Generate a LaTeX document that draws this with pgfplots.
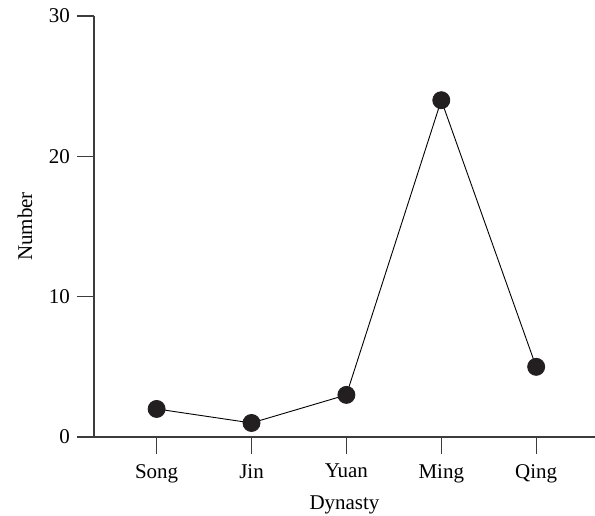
\documentclass[border=0pt]{standalone}
\usepackage{fontspec}
\setmainfont{Liberation Serif}
\usepackage{pgfplots}
\pgfplotsset{compat=1.18}
\definecolor{axgray}{HTML}{3C3C3C}
\definecolor{dot}{HTML}{231F20}
\begin{document}
\fontsize{21}{25}\selectfont
\begin{tikzpicture}
\useasboundingbox (0,0) rectangle (595pt,515pt);
\begin{axis}[
  at={(94pt,78pt)}, anchor=south west,
  width=501pt, height=421pt, scale only axis,
  axis x line=bottom, axis y line=left,
  axis line style={-, axgray, line width=1.1pt},
  every tick/.style={axgray, line width=1.1pt},
  tick align=outside, major tick length=17pt,
  xmin=-0.66, xmax=4.62, ymin=0, ymax=30,
  xtick={0,1,2,3,4},
  xticklabels={Song,Jin,Yuan,Ming,Qing},
  ytick={0,10,20,30},
  /pgf/number format/assume math mode=true,
  tick label style={font=\fontsize{21}{25}\selectfont, black},
  xticklabel style={yshift=-3pt},
  label style={font=\fontsize{21}{25}\selectfont, black},
  xlabel={Dynasty}, ylabel={Number},
  xlabel style={at={(axis description cs:0.5,-0.1615)}, anchor=center},
  ylabel style={at={(axis description cs:-0.1377,0.5)}, anchor=center},
  clip=false,
]
\addplot[black, line width=0.9pt, mark=*, mark size=8.5pt, mark options={fill=dot, draw=dot}]
  coordinates {(0,2) (1,1) (2,3) (3,24) (4,5)};
\end{axis}
\end{tikzpicture}
\end{document}
